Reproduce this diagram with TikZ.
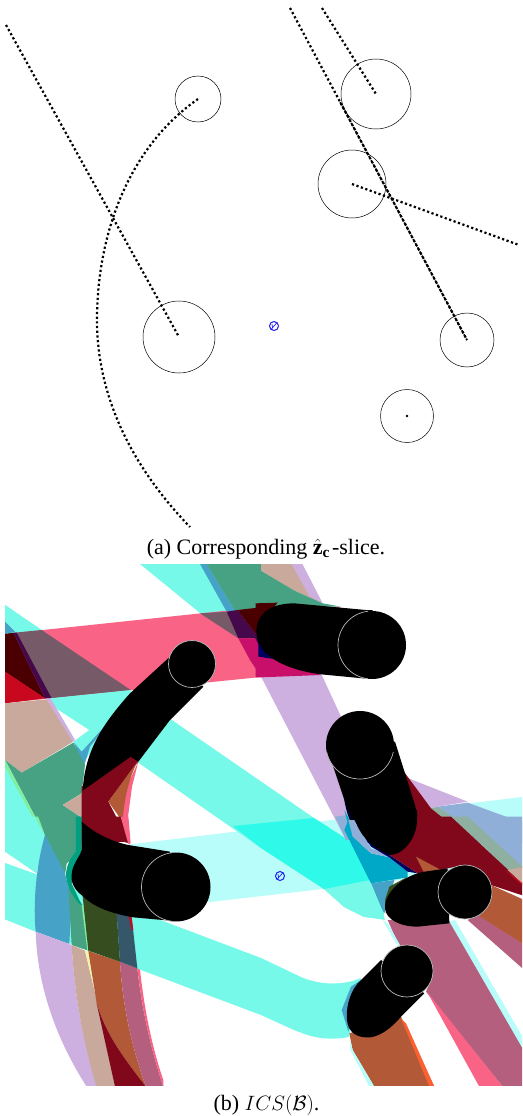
\documentclass[tikz,border=0pt]{standalone}
\usepackage{fontspec}
\setmainfont{Liberation Serif}
\definecolor{tealc}{HTML}{76F9E8}\definecolor{turq}{HTML}{2FF9E8}\definecolor{cyanl}{HTML}{B9FDFB}
\definecolor{pinkc}{HTML}{F96385}\definecolor{lav}{HTML}{CDB0E0}\definecolor{tanc}{HTML}{C9A99B}
\definecolor{greenc}{HTML}{46A282}\definecolor{bluec}{HTML}{47A2C8}\definecolor{brownc}{HTML}{B25A38}
\definecolor{dred}{HTML}{80081A}\definecolor{mauve}{HTML}{B55F7E}\definecolor{grayp}{HTML}{765A68}
\definecolor{maroon}{HTML}{4A0000}\definecolor{dpurp}{HTML}{45084A}\definecolor{crimson}{HTML}{C8081F}
\definecolor{magent}{HTML}{C8106A}\definecolor{lgreen}{HTML}{7EF0A0}\definecolor{pyel}{HTML}{F2F5A8}
\definecolor{bluel}{HTML}{8FAFD9}\definecolor{ggray}{HTML}{8FAFA0}\definecolor{dkteal}{HTML}{00A080}
\definecolor{dkgreen}{HTML}{364E1F}\definecolor{slate}{HTML}{36566A}\definecolor{cyd}{HTML}{00A8C8}
\definecolor{navyc}{HTML}{000060}\definecolor{orangec}{HTML}{FA6030}\definecolor{markblue}{HTML}{1E1EF0}
\tikzset{
 z1/.style={shift={(0,560)},x=0.33333pt,y=-0.33333pt},
 z2/.style={shift={(261,560)},x=0.33333pt,y=-0.33333pt},
 z3/.style={shift={(0,820)},x=0.33333pt,y=-0.33333pt},
 z4/.style={shift={(261,820)},x=0.33333pt,y=-0.33333pt},
 ring/.style={circle,draw=black,line width=0.5pt,inner sep=0pt},
 dots/.style={line width=2.2pt,dash pattern=on 2.2pt off 2.5pt,black},
 captext/.style={font=\fontsize{22}{26}\selectfont,inner sep=0pt},
 hilite/.style={draw=white!72!black,line width=0.7pt},
 markring/.style={draw=markblue,line width=1pt},
 markline/.style={draw=markblue,line width=0.7pt}
}
\newcommand{\pg}[2]{\fill[#1] #2 -- cycle;}
\begin{document}
\begin{tikzpicture}[x=1pt,y=-1pt]
\useasboundingbox (0,0) rectangle (522,1116);
\fill[white] (0,0) rectangle (522,1116);
% ---------- top panel
\coordinate (ca) at (198,99);\coordinate (cb) at (376,94);\coordinate (cc) at (352,184);
\coordinate (cd) at (179,337);\coordinate (ce) at (467,340);\coordinate (cf) at (407,416);
\coordinate (fa) at (6,25);\coordinate (fb) at (290,8);\coordinate (fc) at (322,8);
\coordinate (fd) at (519,245);\coordinate (fe) at (190,527);\coordinate (fg) at (339,100);
\node[ring,minimum size=46pt] (na) at (ca) {};
\node[ring,minimum size=70pt] (nb) at (cb) {};
\node[ring,minimum size=68pt] (nc) at (cc) {};
\node[ring,minimum size=72pt] (nd) at (cd) {};
\node[ring,minimum size=54pt] (ne) at (ce) {};
\node[ring,minimum size=53pt] (nf) at (cf) {};
\draw[dots] (fa) -- (cd);
\draw[dots] (ca) .. controls (125,150) and (97,240) .. (97,320) .. controls (97,400) and (135,470) .. (fe);
\draw[dots] (fb) -- (ce);
\draw[dots,line width=1.8pt,dash phase=2.2pt] (fg) -- (ce);
\draw[dots] (fc) -- (cb);
\draw[dots] (cc) -- (fd);
\fill[black] (cf) circle (1.3);
\draw[markring] (274,326) circle (4.5);
\draw[markline] (271,329.5) -- (277,322.5) (272,324) -- (272.5,327.5);
\node[captext] (capa) at (266,549) {(a) Corresponding $\hat{\mathbf{z}}_{\mathbf{c}}$\kern2pt-slice.};
\node[captext] (capb) at (266.5,1105) {(b) $ICS(\mathcal{B})$.};
% ---------- bottom panel
\begin{scope}
\clip (5,564) rectangle (522,1085);
% base bands
\pg{cyanl}{(100,848) -- (522,797) -- (522,866) -- (210,902)}
\pg{tealc}{(5,605) -- (314,818) -- (348,840) -- (390,878) -- (383,919) -- (364,917) -- (344,907) -- (324,889) -- (261,848) -- (5,670)}
\pg{turq}{(233,826) -- (314,818) -- (348,840) -- (390,876) -- (324,889) -- (261,848)}
\fill[tealc] (5,863) -- (163,921) -- (261,958) -- (301,977) .. controls (322,986) and (345,985) .. (361,978) -- (349,1037) .. controls (320,1042) and (305,1034) .. (294,1030) -- (261,1015) -- (5,919) -- cycle;
\pg{tealc}{(140,564) -- (290,564) -- (300,610) -- (200,613)}
\pg{pinkc}{(5,634) -- (261,607) -- (340,607) -- (340,668) -- (261,677) -- (5,703)}
\begin{scope}[z1]
\pg{tealc}{(15,135) -- (125,210) -- (45,218) -- (15,222)}
\pg{bluec}{(15,185) -- (45,215) -- (15,222)}
\pg{grayp}{(45,218) -- (125,210) -- (392,390) -- (150,415)}
\pg{maroon}{(15,222) -- (40,218) -- (135,415) -- (15,335)}
\pg{dpurp}{(40,218) -- (50,218) -- (155,415) -- (135,415)}
\pg{crimson}{(15,335) -- (135,415) -- (15,430)}
\pg{bluec}{(600,12) -- (620,12) -- (705,152) -- (680,155)}
\pg{greenc}{(620,12) -- (800,12) -- (800,120) -- (783,142) -- (705,152)}
\pg{grayp}{(600,160) -- (680,155) -- (715,235)}
\pg{dpurp}{(680,155) -- (712,150) -- (770,225) -- (790,290) -- (765,235) -- (715,235)}
\pg{maroon}{(712,150) -- (800,140) -- (800,190) -- (770,225)}
\pg{magent}{(715,235) -- (765,235) -- (800,300) -- (800,345) -- (783,350) -- (750,300)}
\pg{tealc}{(150,415) -- (395,390) -- (250,610) -- (220,545) -- (268,510) -- (160,440)}
\pg{lav}{(138,415) -- (152,415) -- (225,540) -- (215,547)}
\pg{bluec}{(222,548) -- (245,575) -- (340,470) -- (270,560) -- (250,625)}
\pg{tanc}{(15,430) -- (140,418) -- (218,546) -- (65,638) -- (15,600)}
\pg{greenc}{(15,600) -- (65,638) -- (220,548) -- (255,615) -- (245,700) -- (188,735) -- (248,775) -- (235,850) -- (135,850) -- (135,825)}
\pg{lgreen}{(15,600) -- (135,825) -- (135,850) -- (15,622)}
\pg{tealc}{(15,622) -- (135,840) -- (105,850) -- (15,850)}
\pg{tanc}{(188,735) -- (250,698) -- (250,775)}
\pg{pinkc}{(415,605) -- (396,680) -- (384,770) -- (390,850) -- (370,820) -- (362,770) -- (380,680)}
\pg{dred}{(245,680) -- (392,580) -- (415,605) -- (325,725) -- (375,820) -- (388,845) -- (245,850)}
\fill[brownc] (412,605) .. controls (390,650) and (372,710) .. (368,785) -- (325,725) -- cycle;
\fill[black] (510,290) -- (390,400) .. controls (310,490) and (255,570) .. (248,692) -- (392,590) -- (415,605) -- (510,480) -- (610,380) -- cycle;
\end{scope}
\begin{scope}[z3]
\pg{dred}{(245,-10) -- (365,-10) -- (390,70) -- (300,50)}
\pg{pinkc}{(362,-10) -- (385,-10) -- (392,70) -- (385,72)}
\pg{tealc}{(15,-10) -- (105,-10) -- (135,45) -- (110,160) -- (15,95)}
\pg{lgreen}{(105,-10) -- (115,-10) -- (137,30) -- (135,45)}
\pg{greenc}{(115,-10) -- (232,-10) -- (245,95) -- (200,130) -- (195,165) -- (135,45)}
\pg{tealc}{(15,130) -- (110,163) -- (107,335) -- (15,298)}
\fill[bluec] (135,45) -- (195,160) -- (215,240) -- (208,372) -- (107,335) .. controls (100,260) and (105,150) .. (135,45) -- cycle;
\pg{greenc}{(205,200) -- (248,255) -- (265,392) -- (215,375)}
\pg{lgreen}{(245,255) -- (255,255) -- (272,395) -- (262,392)}
\fill[lav] (107,335) -- (215,375) .. controls (222,500) and (245,660) .. (292,800) -- (260,800) .. controls (170,660) and (112,500) .. (107,335) -- cycle;
\fill[tanc] (215,375) -- (255,392) -- (290,540) -- (345,800) -- (290,800) .. controls (245,660) and (222,500) .. (215,375) -- cycle;
\pg{pyel}{(255,392) -- (266,395) -- (290,535)}
\fill[brownc] (265,393) -- (360,425) .. controls (368,560) and (395,680) .. (438,800) .. controls (380,725) and (320,650) .. (290,550) -- cycle;
\fill[dred] (290,550) .. controls (320,650) and (380,725) .. (438,800) -- (345,800) -- cycle;
\fill[mauve] (360,425) -- (412,445) .. controls (425,560) and (450,680) .. (490,800) -- (438,800) .. controls (395,680) and (368,560) .. (360,425) -- cycle;
\fill[pinkc] (412,445) -- (420,450) .. controls (432,560) and (455,680) .. (490,780) -- (490,800) .. controls (450,680) and (425,560) .. (412,445) -- cycle;
\pg{dkgreen}{(248,228) -- (350,280) -- (360,425) -- (265,392)}
\pg{slate}{(350,280) -- (395,290) -- (412,445) -- (360,425)}
\pg{crimson}{(385,285) -- (393,285) -- (400,330) -- (395,330)}
\fill[dkteal] (228,-10) -- (245,-10) -- (245,95) -- (215,190) -- (245,255) -- (238,252) .. controls (195,200) and (180,150) .. (228,95) -- cycle;
\fill[black] (245,-10) -- (245,5) .. controls (290,45) and (340,65) .. (385,75) -- (510,95) -- (510,302) -- (400,292) .. controls (330,280) and (280,260) .. (248,228) .. controls (225,210) and (212,190) .. (215,165) .. controls (215,135) and (240,110) .. (245,90) -- (245,-10);
\end{scope}
\begin{scope}[z2]
\pg{tanc}{(0,0) -- (85,0) -- (145,100) -- (185,130) -- (100,92) -- (0,35)}
\pg{lav}{(85,0) -- (118,0) -- (185,130) -- (145,108)}
\pg{greenc}{(-5,30) -- (100,92) -- (185,130) -- (240,140) -- (-5,140)}
\pg{lav}{(0,350) -- (180,340) -- (240,470) -- (230,600) -- (290,840) -- (255,840)}
\pg{bluel}{(222,770) -- (258,765) -- (270,840) -- (255,840)}
\pg{lav}{(430,650) -- (620,725) -- (530,740) -- (510,745)}
\pg{bluel}{(530,740) -- (620,728) -- (790,790) -- (790,850) -- (680,850)}
\pg{ggray}{(510,745) -- (530,740) -- (690,850) -- (640,850)}
\pg{dred}{(425,630) -- (510,745) -- (640,850) -- (460,850) -- (465,750)}
\pg{maroon}{(-16,130) -- (50,128) -- (-16,210)}
\pg{magent}{(-16,265) -- (30,285) -- (180,345) -- (0,352) -- (-16,352)}
\pg{navyc}{(-8,240) -- (40,297) -- (-8,290)}
\fill[black] (-14,215) .. controls (-14,160) and (30,130) .. (100,130) -- (315,150) -- (335,150) -- (335,355) -- (305,355) -- (180,343) .. controls (80,330) and (-14,290) .. (-14,215) -- cycle;
\fill[black] (210,600) -- (250,720) .. controls (260,780) and (280,810) .. (300,840) -- (470,840) -- (470,790) .. controls (470,760) and (465,750) .. (462,735) -- (402,545) -- cycle;
\pg{navyc}{(250,720) -- (265,770) -- (335,850) -- (300,850)}
\pg{cyd}{(250,750) -- (258,765) -- (300,850) -- (275,850)}
\end{scope}
\begin{scope}[z4]
\pg{bluel}{(620,-10) -- (790,-10) -- (790,145) -- (740,150)}
\pg{ggray}{(575,-10) -- (620,-10) -- (790,145) -- (740,150)}
\pg{cyd}{(250,30) -- (262,0) -- (275,50) -- (330,100) -- (385,112) -- (440,155) -- (440,172) -- (330,190)}
\pg{bluel}{(262,0) -- (282,0) -- (330,85) -- (385,105) -- (440,150) -- (385,112) -- (330,100) -- (275,50)}
\pg{bluec}{(330,190) -- (400,180) -- (370,280) -- (360,262)}
\pg{tealc}{(190,208) -- (330,190) -- (360,262) -- (372,300) -- (310,290) -- (250,260)}
\pg{navyc}{(280,0) -- (295,0) -- (385,105) -- (470,160) -- (440,155) -- (385,112) -- (330,80)}
\pg{dred}{(385,105) -- (470,-10) -- (570,-10) -- (790,195) -- (790,228) -- (690,195) -- (610,135) -- (510,155) -- (470,160)}
\pg{crimson}{(730,150) -- (790,190) -- (790,200)}
\pg{tanc}{(740,150) -- (790,140) -- (790,195)}
\pg{brownc}{(465,110) -- (540,150) -- (490,160)}
\pg{brownc}{(690,195) -- (790,240) -- (790,375) -- (650,290) -- (690,240)}
\pg{cyanl}{(565,305) -- (582,300) -- (790,660) -- (790,700)}
\pg{mauve}{(380,300) -- (565,305) -- (790,695) -- (790,800) -- (725,800) -- (495,515) -- (515,470) -- (415,380)}
\pg{mauve}{(620,300) -- (650,285) -- (790,375) -- (790,450)}
\pg{cyanl}{(365,300) -- (380,310) -- (420,380) -- (405,370)}
\pg{pinkc}{(498,515) -- (725,800) -- (655,800)}
\pg{brownc}{(265,640) -- (420,590) -- (520,800) -- (340,800) -- (275,690)}
\pg{orangec}{(420,595) -- (435,610) -- (520,800) -- (505,800)}
\pg{cyanl}{(265,655) -- (275,690) -- (340,800) -- (325,800) -- (268,690)}
\pg{bluec}{(300,480) -- (270,500) -- (242,570) -- (262,635) -- (290,540)}
\pg{dkgreen}{(372,240) -- (385,200) -- (440,170) -- (390,215) -- (375,280)}
\fill[black] (560,145) -- (490,155) .. controls (430,165) and (370,215) .. (372,265) .. controls (375,300) and (420,320) .. (470,320) -- (565,310) -- cycle;
\fill[black] (360,420) -- (290,490) .. controls (262,525) and (255,570) .. (258,600) .. controls (262,640) and (290,655) .. (330,652) .. controls (365,645) and (395,620) .. (420,590) -- (490,520) -- cycle;
\fill[black] (300,-30) -- (282,0) .. controls (300,50) and (330,80) .. (385,105) .. controls (430,105) and (468,50) .. (468,0) -- (468,-30) -- cycle;
\end{scope}
% end circles of the black sweeps
\fill[black] (192,664) circle (23.5) (176,887) circle (34.5) (465,892) circle (27) (407,971) circle (26) (360,745) circle (34) (372,645) circle (34);
\draw[hilite] (192,664) circle (23.5) (465,892) circle (27) (407,971) circle (26);
\begin{scope}\clip (120,840) rectangle (172,930);\draw[hilite] (176,887) circle (34.5);\end{scope}
\begin{scope}\clip (320,752) rectangle (400,790);\draw[hilite] (360,745) circle (34);\end{scope}
\begin{scope}\clip (330,600) rectangle (368,690);\draw[hilite] (372,645) circle (34);\end{scope}
\end{scope}
\draw[markring] (280,876) circle (4.5);
\draw[markline] (277,879.5) -- (283,872.5) (278,874) -- (278.5,877.5);
\end{tikzpicture}
\end{document}
